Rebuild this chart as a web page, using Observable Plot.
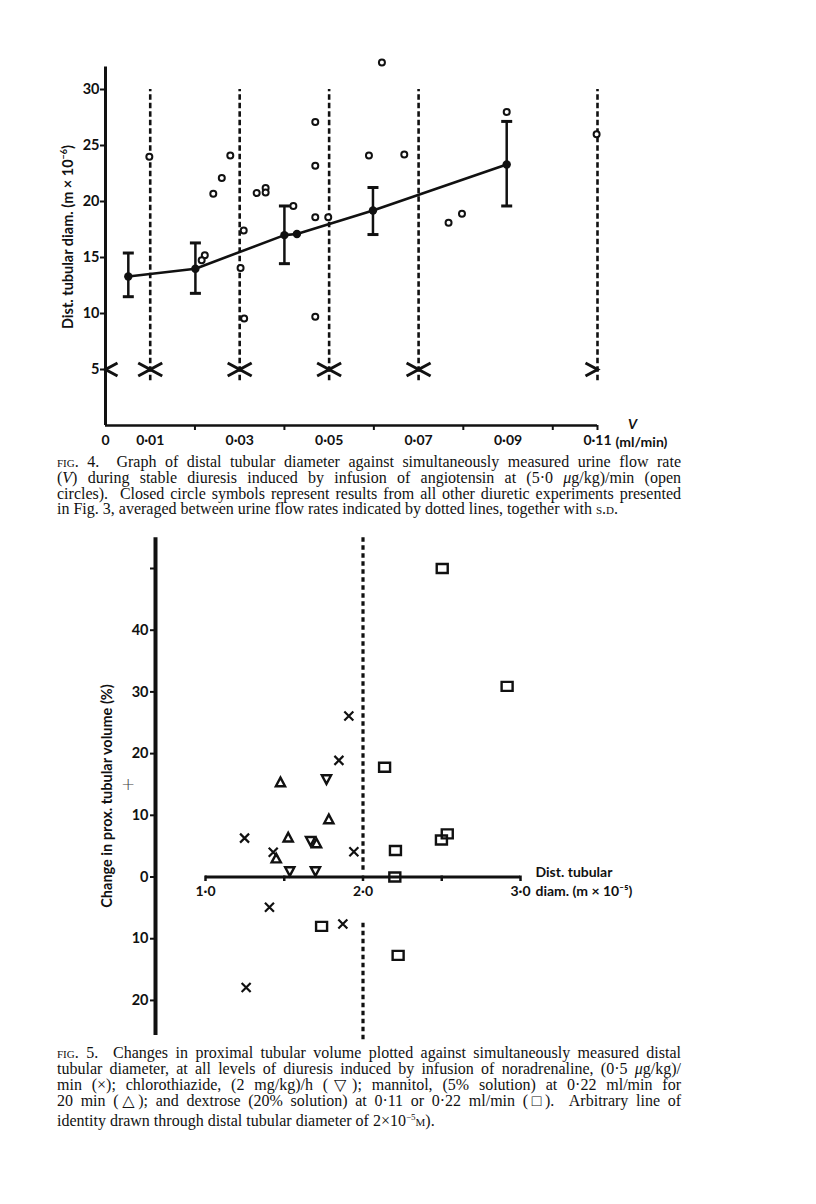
<!DOCTYPE html>
<html>
<head>
<meta charset="utf-8">
<script src="https://cdn.jsdelivr.net/npm/d3@7"></script>
<script src="https://cdn.jsdelivr.net/npm/@observablehq/plot@0.6"></script>
<style>
  html, body { margin: 0; padding: 0; background: #fff; }
  #page { position: relative; width: 816px; height: 1204px; overflow: hidden; background: #fff; color: #111; }
  #fig4 { position: absolute; left: 0; top: 0; }
  #fig5 { position: absolute; left: 0; top: 520px; }
  .ylab { position: absolute; white-space: nowrap; transform: translate(-50%, -50%) rotate(-90deg);
          font-family: Lato, "Open Sans", sans-serif; font-weight: 700; font-size: 14.5px; color: #111; }
  .cap { position: absolute; left: 57px; width: 624px; font-family: "Liberation Serif", "DejaVu Serif", serif;
         font-size: 16px; line-height: 15.8px; color: #111; }
  .cap div { text-align: justify; text-align-last: justify; }
  .cap div.last { text-align: left; text-align-last: left; }
  .sc { font-variant: small-caps; }
  #plus { position: absolute; left: 121px; top: 774px; font-family: "DejaVu Sans", sans-serif; font-size: 17px; font-weight: 300; color: #444; }
</style>
</head>
<body>
<div id="page">
  <div id="fig4"></div>
  <div class="ylab" style="left:67px; top:237px;">Dist. tubular diam. (m × 10<sup style="font-size:9px">−6</sup>)</div>
  <div class="cap" style="top:454px;">
    <div><span class="sc">fig</span>. 4.&nbsp; Graph of distal tubular diameter against simultaneously measured urine flow rate</div>
    <div>(<i>V</i>) during stable diuresis induced by infusion of angiotensin at (5·0 <i>μ</i>g/kg)/min (open</div>
    <div>circles).&nbsp; Closed circle symbols represent results from all other diuretic experiments presented</div>
    <div class="last">in Fig. 3, averaged between urine flow rates indicated by dotted lines, together with <span class="sc">s.d.</span></div>
  </div>
  <div id="fig5"></div>
  <div class="ylab" style="left:106px; top:796px;">Change in prox. tubular volume (%)</div>
  <div id="plus">+</div>
  <div class="cap" style="top:1045px; line-height:16px;">
    <div><span class="sc">fig</span>. 5.&nbsp; Changes in proximal tubular volume plotted against simultaneously measured distal</div>
    <div>tubular diameter, at all levels of diuresis induced by infusion of noradrenaline, (0·5 <i>μ</i>g/kg)/</div>
    <div>min (×); chlorothiazide, (2 mg/kg)/h (▽); mannitol, (5% solution) at 0·22 ml/min for</div>
    <div>20 min (△); and dextrose (20% solution) at 0·11 or 0·22 ml/min (□).&nbsp; Arbitrary line of</div>
    <div class="last">identity drawn through distal tubular diameter of 2×10<sup style="font-size:9px">−5</sup><span class="sc">m</span>).</div>
  </div>
</div>
<script>
// ---------- Fig. 4 data ----------
const openV = [0.0098, 0.0241, 0.0260, 0.0279, 0.0309, 0.0338, 0.0358, 0.0358, 0.0420, 0.0469, 0.0469, 0.0469, 0.0498,
               0.0618, 0.0589, 0.0668, 0.0767, 0.0797, 0.0897, 0.1098, 0.0222, 0.0215, 0.0302, 0.0310, 0.0469];
const openD = [24.0, 20.7, 22.1, 24.1, 17.4, 20.75, 21.2, 20.8, 19.6, 27.1, 23.2, 18.6, 18.6,
               32.4, 24.1, 24.2, 18.1, 18.9, 28.0, 26.0, 15.2, 14.75, 14.06, 9.56, 9.7];
const meanV = [0.0051, 0.0201, 0.0400, 0.0428, 0.0598, 0.0897];
const meanD = [13.3, 14.0, 17.0, 17.1, 19.2, 23.3];
const sdLo  = [11.5, 11.8, 14.45, null, 17.05, 19.6];
const sdHi  = [15.4, 16.3, 19.6, null, 21.25, 27.15];
const dottedV = [0.01, 0.03, 0.05, 0.07, 0.11];
const dottedFrom = 4, dottedTo = 30;
const groupStart = [0, 0.01, 0.03, 0.05, 0.07];   // "<" markers
const groupEnd   = [0.01, 0.03, 0.05, 0.07, 0.11]; // ">" markers
const markerLevel = 5;
const yTicks4 = [5, 10, 15, 20, 25, 30];
const xTickMarks4 = [0.02, 0.04, 0.06, 0.08, 0.10, 0.11];
const xTickLabels4 = [0, 0.01, 0.03, 0.05, 0.07, 0.09, 0.11];
const xDomain4 = [0, 0.11], yDomain4 = [0, 32];

// ---------- Fig. 5 data ----------
const noradX  = [1.910, 1.847, 1.248, 1.430, 1.942, 1.406, 1.872, 1.258];
const noradY  = [26.1, 18.9, 6.3, 4.0, 4.1, -4.9, -7.6, -17.9];
const chloroX = [1.768, 1.667, 1.535, 1.698];
const chloroY = [15.9, 5.9, 1.0, 1.0];
const mannX   = [1.476, 1.783, 1.525, 1.705, 1.449];
const mannY   = [15.3, 9.3, 6.35, 5.4, 2.95];
const dextX   = [2.503, 2.915, 2.137, 2.206, 2.498, 2.535, 2.202, 2.223, 1.737];
const dextY   = [50.0, 30.9, 17.8, 4.3, 6.0, 7.0, 0.0, -12.7, -8.0];
const identityX = 2.0;
const identitySegments = [[55, 1], [-7.5, -26.5]];
const yTicks5 = [50, 40, 30, 20, 10, 0, -10, -20];
const xTicks5 = [1.0, 1.5, 2.0, 2.5, 3.0];
const xTickLabels5 = [1.0, 2.0, 3.0];
const xDomain5 = [0.6825, 3.0], yDomain5 = [-25.7, 55];

// ---------- custom symbols ----------
const sym = f => ({draw(c) { f(c); }});
const chevLt = sym(c => { c.moveTo(12, -6.5); c.lineTo(0, 0); c.lineTo(12, 6.5); });
const chevGt = sym(c => { c.moveTo(-12, -6.5); c.lineTo(0, 0); c.lineTo(-12, 6.5); });
const capSym = sym(c => { c.moveTo(-5.5, 0); c.lineTo(5.5, 0); });
const crossSym = sym(c => { c.moveTo(-4.5, -4.5); c.lineTo(4.5, 4.5); c.moveTo(-4.5, 4.5); c.lineTo(4.5, -4.5); });
const triUp = sym(c => { c.moveTo(0, -5); c.lineTo(4.6, 3.6); c.lineTo(-4.6, 3.6); c.closePath(); });
const triDown = sym(c => { c.moveTo(0, 5); c.lineTo(4.6, -3.6); c.lineTo(-4.6, -3.6); c.closePath(); });
const squareSym = sym(c => { c.rect(-5.5, -4.5, 11, 9); });
const vTickSym = sym(c => { c.moveTo(0, -1.5); c.lineTo(0, 4); });

const fmtDot = d => d === 0 ? "0" : d3.format(".2f")(d).replace(".", "·");
const fmtDot1 = d => d3.format(".1f")(d).replace(".", "·");
const font = "Lato, 'Open Sans', sans-serif";
const ink = "#111";

// ---------- Fig. 4 ----------
const openPts = openV.map((v, i) => ({v, d: openD[i]}));
const meanPts = meanV.map((v, i) => ({v, d: meanD[i], lo: sdLo[i], hi: sdHi[i]}));
const sdPts = meanPts.filter(p => p.lo != null);

const fig4 = Plot.plot({
  width: 816, height: 460,
  marginLeft: 105, marginRight: 219, marginTop: 66.6, marginBottom: 35,
  x: {domain: xDomain4, axis: null}, y: {domain: yDomain4, axis: null},
  style: {background: "transparent", color: ink, fontFamily: font},
  marks: [
    Plot.ruleX(dottedV, {y1: dottedFrom, y2: dottedTo, stroke: ink, strokeWidth: 2.6, strokeDasharray: "5.5,3"}),
    Plot.ruleX([xDomain4[0]], {y1: yDomain4[0], y2: yDomain4[1], stroke: ink, strokeWidth: 3}),
    Plot.ruleY([yDomain4[0]], {x1: xDomain4[0], x2: xDomain4[1], stroke: ink, strokeWidth: 2.5}),
    Plot.axisY(yTicks4, {tickSize: 5, tickPadding: 1, strokeWidth: 2, fontSize: 14.5, fontWeight: 700, fontFamily: font, tickFormat: d => String(d), label: null}),
    Plot.axisX(xTickMarks4, {tickSize: 5, strokeWidth: 2, tickFormat: () => "", label: null}),
    Plot.axisX(xTickLabels4, {tickSize: 0, tickPadding: 10, fontSize: 14, fontWeight: 700, fontFamily: font, tickFormat: fmtDot, label: null}),
    Plot.text(["V"], {x: xDomain4[1], y: yDomain4[0], dx: 35, dy: -1, fontSize: 14, fontStyle: "italic", fontWeight: 700, fontFamily: font}),
    Plot.text(["(ml/min)"], {x: xDomain4[1], y: yDomain4[0], dx: 18, dy: 17, textAnchor: "start", fontSize: 14, fontWeight: 700, fontFamily: font}),
    Plot.dot(groupStart, {x: d => d, y: markerLevel, symbol: chevLt, fill: "none", stroke: ink, strokeWidth: 3}),
    Plot.dot(groupEnd, {x: d => d, y: markerLevel, symbol: chevGt, fill: "none", stroke: ink, strokeWidth: 3}),
    Plot.ruleX(sdPts, {x: "v", y1: "lo", y2: "hi", stroke: ink, strokeWidth: 2.5}),
    Plot.dot(sdPts, {x: "v", y: "lo", symbol: capSym, fill: "none", stroke: ink, strokeWidth: 3}),
    Plot.dot(sdPts, {x: "v", y: "hi", symbol: capSym, fill: "none", stroke: ink, strokeWidth: 3}),
    Plot.line(meanPts, {x: "v", y: "d", stroke: ink, strokeWidth: 2.6}),
    Plot.dot(meanPts, {x: "v", y: "d", r: 4.2, fill: ink, stroke: "none"}),
    Plot.dot(openPts, {x: "v", y: "d", r: 3, fill: "#fff", stroke: ink, strokeWidth: 2})
  ]
});
document.getElementById("fig4").append(fig4);

// ---------- Fig. 5 ----------
const toPts = (xs, ys) => xs.map((x, i) => ({x, y: ys[i]}));
const segs = identitySegments.map(([a, b]) => ({x: identityX, y1: a, y2: b}));

const fig5 = Plot.plot({
  width: 816, height: 530,
  marginLeft: 155, marginRight: 296, marginTop: 17.15, marginBottom: 14.9,
  x: {domain: xDomain5, axis: null}, y: {domain: yDomain5, axis: null},
  style: {background: "transparent", color: ink, fontFamily: font},
  marks: [
    Plot.ruleX(segs, {x: "x", y1: "y1", y2: "y2", stroke: ink, strokeWidth: 3.2, strokeDasharray: "4.5,3.5"}),
    Plot.ruleX([xDomain5[0]], {y1: yDomain5[0], y2: yDomain5[1], stroke: ink, strokeWidth: 4}),
    Plot.axisY(yTicks5, {tickSize: 5, tickPadding: 2, strokeWidth: 2, fontSize: 14.5, fontWeight: 700, fontFamily: font, tickFormat: d => d === 50 ? "" : String(Math.abs(d)), label: null}),
    Plot.ruleY([0], {x1: xTicks5[0], x2: xTicks5[xTicks5.length - 1], stroke: ink, strokeWidth: 3}),
    Plot.dot(xTicks5, {x: d => d, y: 0, symbol: vTickSym, fill: "none", stroke: ink, strokeWidth: 2.5}),
    Plot.text(xTickLabels5, {x: d => d, y: 0, dy: 14, text: fmtDot1, fontSize: 14, fontWeight: 700, fontFamily: font}),
    Plot.text(["Dist. tubular\ndiam. (m × 10⁻⁵)"], {x: xTicks5[xTicks5.length - 1], y: 0, dx: 15, dy: 3, textAnchor: "start", lineAnchor: "middle", lineHeight: 1.4, fontSize: 14, fontWeight: 700, fontFamily: font}),
    Plot.dot(toPts(noradX, noradY), {x: "x", y: "y", symbol: crossSym, fill: "none", stroke: ink, strokeWidth: 2.2}),
    Plot.dot(toPts(chloroX, chloroY), {x: "x", y: "y", symbol: triDown, fill: "none", stroke: ink, strokeWidth: 2.4}),
    Plot.dot(toPts(mannX, mannY), {x: "x", y: "y", symbol: triUp, fill: "none", stroke: ink, strokeWidth: 2.4}),
    Plot.dot(toPts(dextX, dextY), {x: "x", y: "y", symbol: squareSym, fill: "none", stroke: ink, strokeWidth: 2.4})
  ]
});
document.getElementById("fig5").append(fig5);
</script>
</body>
</html>
